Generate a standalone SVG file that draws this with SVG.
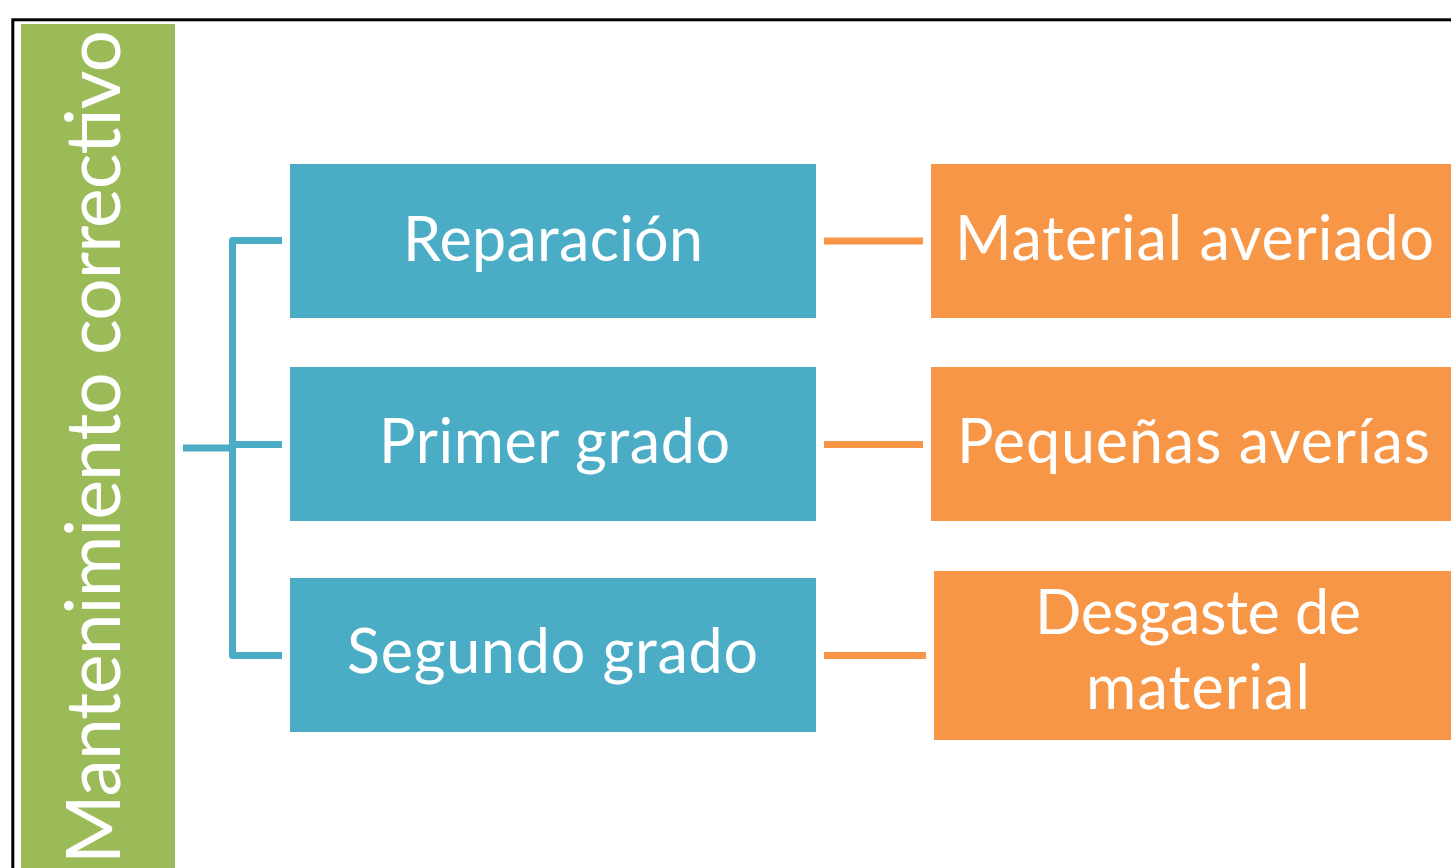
<svg xmlns="http://www.w3.org/2000/svg" width="1451" height="868" viewBox="0 0 1451 868">
  <style>
    .lbl { font-family: Lato, "Open Sans", "Liberation Sans", sans-serif; fill: #FFFFFF; text-anchor: middle; }
    .blue { fill: #4BACC6; }
    .orange { fill: #F79646; }
    .bline { fill: none; stroke: #4BACC6; stroke-width: 7; stroke-linejoin: round; }
    .oline { fill: none; stroke: #F79646; stroke-width: 7; }
  </style>
  <rect x="0" y="0" width="1451" height="868" fill="#FFFFFF"/>
  <rect x="12.8" y="19.8" width="1500" height="900" fill="none" stroke="#000000" stroke-width="3"/>

  <g id="root">
    <rect x="21" y="24" width="154" height="850" fill="#9BBB59"/>
    <text class="lbl" x="120" y="447" font-size="75" transform="rotate(-90 120 447)" textLength="834" lengthAdjust="spacing">Mantenimiento correctivo</text>
  </g>

  <g id="connectors">
    <path class="bline" d="M282,240.5 H232.5 V655.5 H282"/>
    <path class="bline" d="M183,448 H232.5"/>
    <path class="bline" d="M232.5,444.5 H282"/>
    <path class="oline" d="M824,241 H923"/>
    <path class="oline" d="M824,444.5 H923"/>
    <path class="oline" d="M824,655.5 H926"/>
  </g>

  <g id="reparacion">
    <rect class="blue" x="290" y="164" width="526" height="154"/>
    <text class="lbl" x="553" y="261" font-size="61" textLength="300" lengthAdjust="spacing">Reparación</text>
  </g>
  <g id="primer-grado">
    <rect class="blue" x="290" y="367" width="526" height="154"/>
    <text class="lbl" x="554.5" y="463" font-size="61" textLength="351" lengthAdjust="spacing">Primer grado</text>
  </g>
  <g id="segundo-grado">
    <rect class="blue" x="290" y="578" width="526" height="154"/>
    <text class="lbl" x="552.5" y="673" font-size="61" textLength="411" lengthAdjust="spacing">Segundo grado</text>
  </g>

  <g id="material-averiado">
    <rect class="orange" x="931" y="164" width="540" height="154"/>
    <text class="lbl" x="1194.5" y="260" font-size="61" textLength="479" lengthAdjust="spacing">Material averiado</text>
  </g>
  <g id="pequenas-averias">
    <rect class="orange" x="931" y="367" width="540" height="154"/>
    <text class="lbl" x="1193.5" y="463" font-size="61" textLength="473" lengthAdjust="spacing">Pequeñas averías</text>
  </g>
  <g id="desgaste-material">
    <rect class="orange" x="934" y="571" width="540" height="169"/>
    <text class="lbl" x="1198" y="634" font-size="61" textLength="326" lengthAdjust="spacing">Desgaste de</text>
    <text class="lbl" x="1198" y="709" font-size="61" textLength="224" lengthAdjust="spacing">material</text>
  </g>
</svg>
